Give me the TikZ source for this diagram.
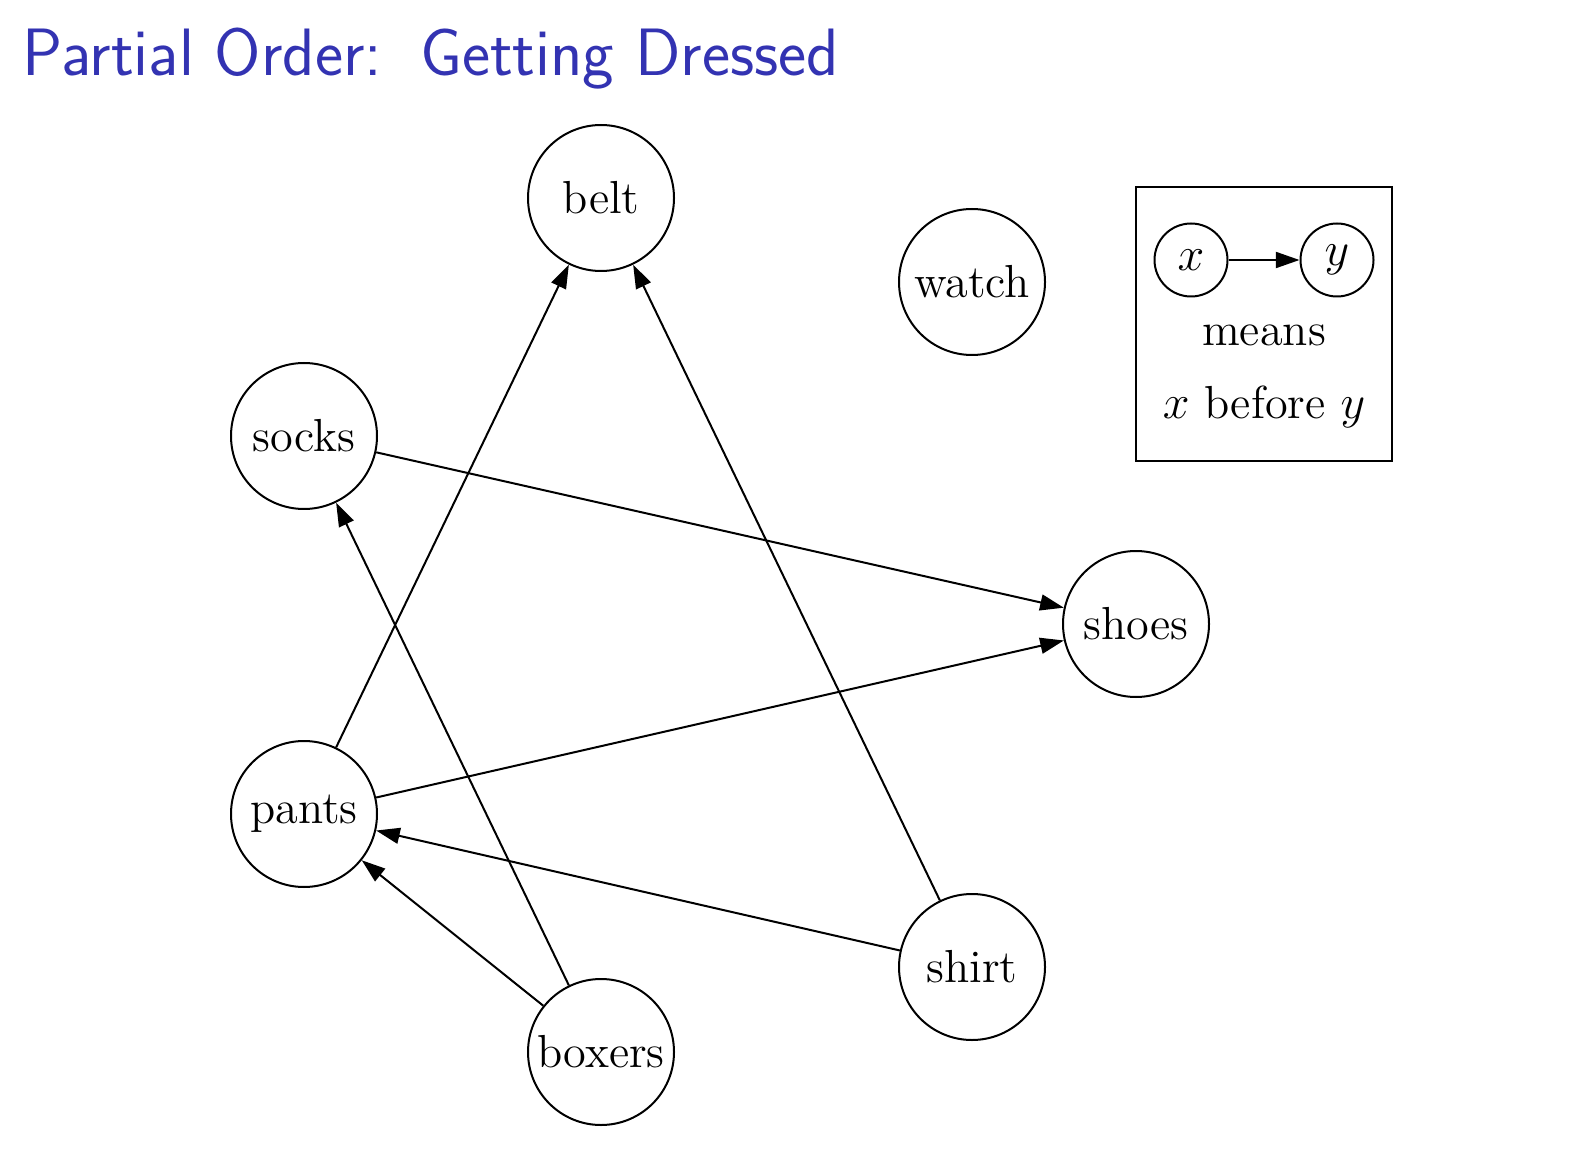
\documentclass[tikz,border=0pt]{standalone}
\usepackage{fontspec}
\usetikzlibrary{arrows.meta}
\definecolor{titleblue}{RGB}{51,51,178}
\tikzset{
  item/.style={circle, draw, line width=0.6pt, minimum size=43.8pt, inner sep=0pt, font=\fontsize{13.9}{16}\selectfont},
  small/.style={circle, draw, line width=0.6pt, minimum size=21.9pt, inner sep=0pt, font=\fontsize{13.9}{16}\selectfont},
  txt/.style={inner sep=0pt, font=\fontsize{13.9}{16}\selectfont},
  edge/.style={line width=0.6pt, -{Triangle[length=7.1pt,width=4.8pt]}},
}
\begin{document}
\begin{tikzpicture}[x=0.3pt,y=-0.3pt]
\useasboundingbox (0,0) rectangle (1592,1170);
\node[anchor=base west, inner sep=0pt, text=titleblue, font=\sffamily\fontsize{20.1}{23}\selectfont] (title) at (22,76) {Partial Order:\hspace{3pt} Getting Dressed};
\node[item] (belt) at (601,198) {belt};
\node[item] (watch) at (972,282) {watch};
\node[item] (socks) at (304,436) {socks};
\node[item] (shoes) at (1136,624) {shoes};
\node[item] (pants) at (304,814) {pants};
\node[item] (shirt) at (972,967) {shirt};
\node[item] (boxers) at (601,1052) {boxers};
\draw[edge] (pants) -- (belt);
\draw[edge] (shirt) -- (belt);
\draw[edge] (boxers) -- (socks);
\draw[edge] (socks) -- (shoes);
\draw[edge] (pants) -- (shoes);
\draw[edge] (shirt) -- (pants);
\draw[edge] (boxers) -- (pants);
% legend
\node[draw, line width=0.6pt, minimum width=76.8pt, minimum height=82.2pt, inner sep=0pt] (legend) at (1264,324) {};
\node[small] (lx) at (1191,260) {$x$};
\node[small] (ly) at (1337,260) {$y$};
\draw[edge] (lx) -- (ly);
\node[txt] (means) at (1264,335) {means};
\node[txt] (before) at (1264,407) {$x$ before $y$};
\end{tikzpicture}
\end{document}
